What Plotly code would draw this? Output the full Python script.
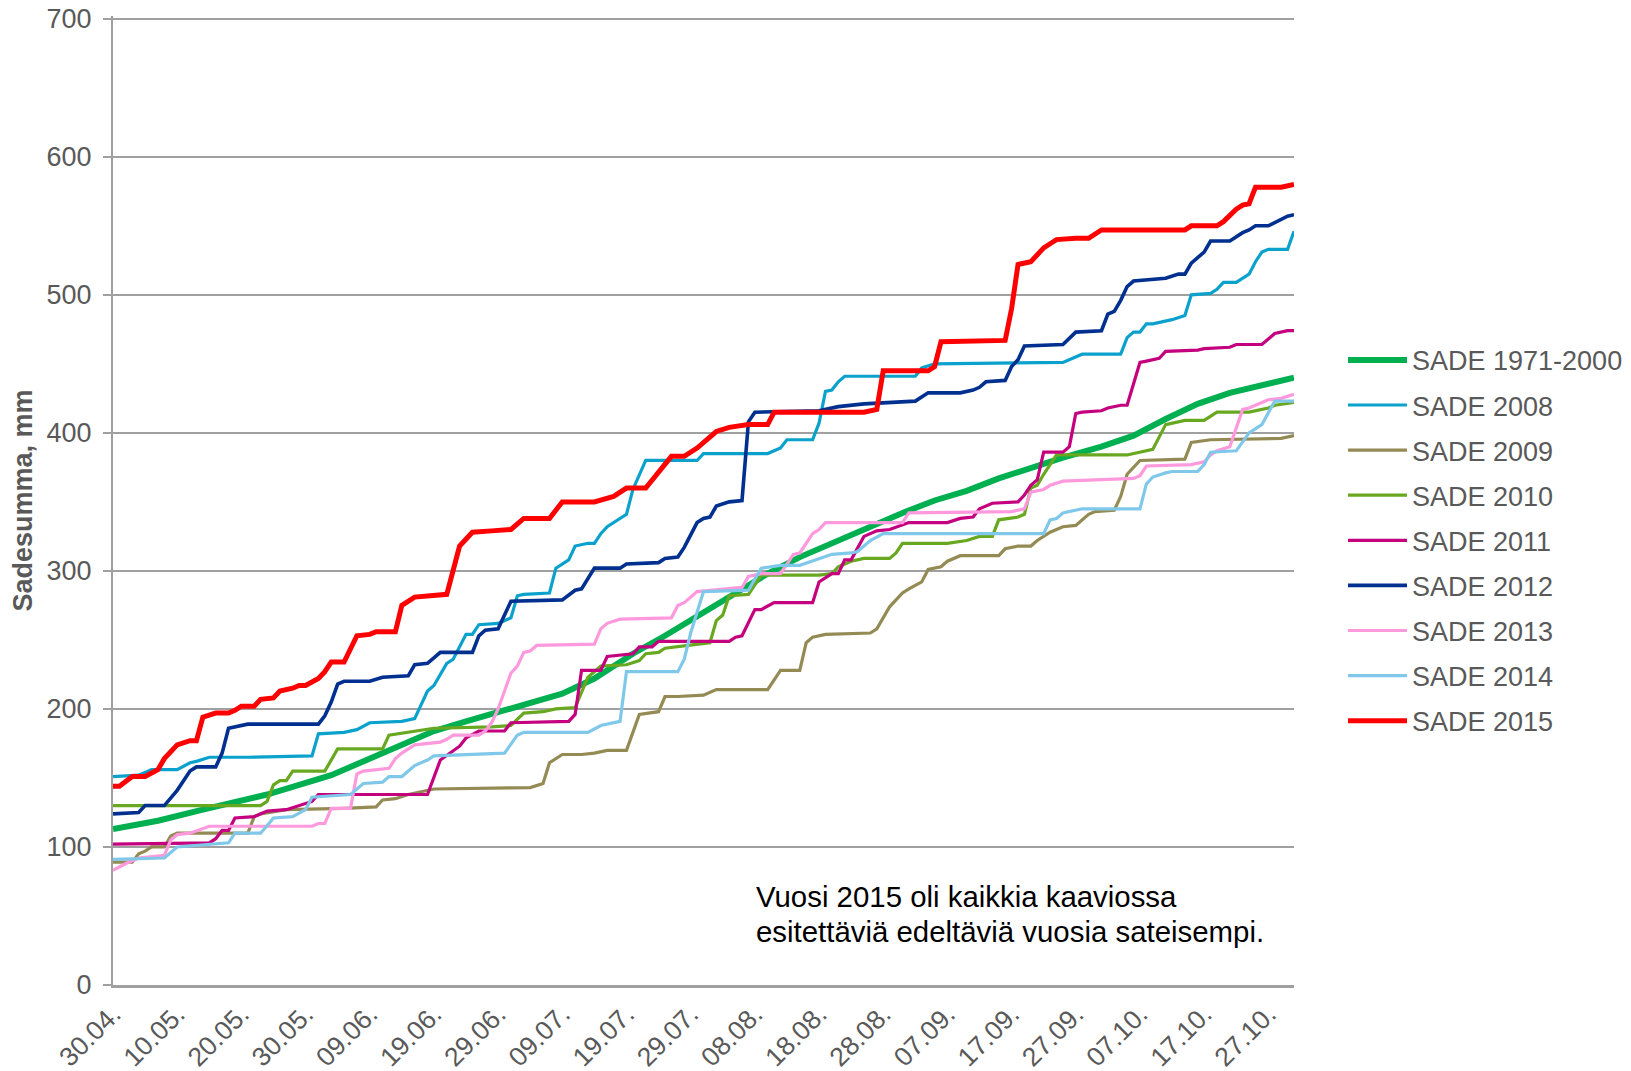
import pandas as pd
import plotly.graph_objects as go

# ---------------- data (day offset from 30.04., cumulative precipitation mm) ----------------
base_date = "2015-04-30"

names = ["SADE 1971-2000", "SADE 2008", "SADE 2009", "SADE 2010", "SADE 2011",
         "SADE 2012", "SADE 2013", "SADE 2014", "SADE 2015"]

d_1971 = [0, 7, 14, 24, 34, 41, 45, 50, 55, 60, 65, 70, 75, 81, 86, 91, 97, 102, 107, 112, 117,
          123, 128, 133, 138, 143, 148, 154, 159, 164, 169, 174, 179, 184]
v_1971 = [113, 119, 127, 138, 152, 166, 175, 184, 191, 198, 205, 211, 222, 240, 253, 267, 283, 298,
          310, 320, 331, 342, 351, 358, 367, 375, 382, 390, 398, 410, 421, 429, 435, 440]

d_2008 = [0, 4, 6, 10, 12, 13, 15, 21, 31, 32, 36, 38, 40, 45, 47, 49, 50, 52, 53, 55, 56, 57, 60,
          62, 63, 64, 68, 69, 71, 72, 74, 75, 76, 77, 80, 81, 83, 91, 92, 102, 104, 105, 109, 110,
          111, 112, 113, 114, 125, 126, 128, 148, 151, 157, 158, 159, 160, 161, 162, 164, 165, 167,
          168, 171, 172, 173, 175, 177, 178, 179, 180, 183, 184]
v_2008 = [151, 152, 156, 156, 161, 162, 165, 165, 166, 182, 183, 185, 190, 191, 193, 213, 217, 233,
          236, 254, 254, 261, 262, 266, 282, 283, 284, 302, 308, 318, 320, 320, 327, 332, 341, 359,
          380, 380, 385, 385, 389, 395, 395, 407, 430, 431, 437, 441, 441, 447, 450, 451, 457, 457,
          469, 473, 473, 479, 479, 481, 482, 485, 500, 501, 504, 509, 509, 515, 524, 531, 533, 533, 546]

d_2009 = [0, 3, 4, 5, 6, 8, 9, 10, 21, 22, 23, 27, 36, 41, 42, 44, 46, 49, 50, 65, 67, 68, 70, 73,
          75, 77, 80, 82, 85, 86, 88, 92, 94, 102, 103, 104, 107, 108, 109, 111, 118, 119, 121, 123,
          124, 126, 127, 129, 130, 132, 138, 139, 141, 143, 144, 146, 148, 150, 152, 153, 156, 157,
          158, 160, 167, 168, 171, 182, 184]
v_2009 = [89, 89, 95, 97, 100, 100, 108, 110, 110, 122, 124, 127, 128, 129, 134, 135, 138, 141, 142,
          143, 146, 161, 167, 167, 168, 170, 170, 196, 198, 209, 209, 210, 214, 214, 221, 228, 228,
          248, 252, 254, 255, 258, 274, 284, 287, 292, 301, 303, 307, 311, 311, 316, 318, 318, 322,
          328, 332, 333, 341, 343, 344, 354, 370, 380, 381, 393, 395, 396, 398]

d_2010 = [0, 23, 24, 25, 26, 27, 28, 33, 35, 42, 43, 46, 50, 59, 62, 64, 67, 69, 72, 74, 76, 80,
          82, 83, 85, 86, 93, 94, 95, 96, 99, 101, 110, 112, 113, 115, 117, 121, 122, 123, 130, 133,
          135, 137, 138, 141, 142, 143, 144, 145, 147, 158, 160, 162, 164, 166, 167, 170, 172, 177,
          180, 181, 184]
v_2010 = [130, 130, 133, 145, 148, 148, 155, 155, 171, 171, 181, 183, 186, 187, 188, 197, 198, 200,
          201, 223, 231, 232, 235, 240, 241, 244, 248, 264, 268, 282, 283, 297, 297, 298, 303, 307,
          309, 309, 313, 320, 320, 322, 325, 325, 337, 339, 341, 360, 362, 370, 384, 384, 386, 388,
          406, 408, 409, 409, 415, 415, 418, 420, 422]

d_2011 = [0, 15, 16, 17, 18, 19, 22, 24, 27, 29, 31, 32, 49, 51, 54, 55, 57, 61, 62, 71, 72, 73,
          76, 77, 81, 82, 84, 85, 96, 97, 98, 100, 101, 103, 109, 110, 112, 113, 114, 115, 117, 119,
          121, 124, 130, 132, 134, 135, 137, 141, 142, 143, 144, 145, 148, 149, 150, 151, 154, 155,
          157, 158, 160, 161, 163, 164, 169, 170, 174, 175, 179, 181, 183, 184]
v_2011 = [102, 103, 106, 112, 112, 121, 122, 126, 127, 130, 133, 138, 138, 163, 173, 179, 184, 184,
          190, 191, 196, 228, 228, 238, 240, 245, 245, 249, 249, 252, 253, 272, 272, 277, 277, 292,
          298, 298, 308, 308, 325, 329, 330, 335, 335, 338, 339, 345, 349, 350, 355, 362, 366, 386,
          386, 390, 414, 415, 416, 418, 420, 420, 451, 452, 454, 459, 460, 461, 462, 464, 464, 472,
          474, 474]

d_2012 = [0, 4, 5, 8, 10, 12, 13, 16, 17, 18, 21, 32, 33, 34, 35, 36, 40, 42, 46, 47, 49, 51, 56,
          57, 58, 60, 62, 70, 72, 73, 75, 79, 80, 85, 86, 88, 89, 91, 92, 93, 94, 96, 98, 99, 100,
          110, 113, 117, 125, 127, 132, 134, 135, 136, 139, 140, 141, 142, 148, 150, 154, 155, 156,
          157, 158, 159, 164, 166, 167, 168, 170, 171, 174, 176, 177, 178, 180, 183, 184]
v_2012 = [124, 125, 130, 130, 141, 155, 158, 158, 168, 186, 189, 189, 195, 205, 218, 220, 220, 223,
          224, 232, 233, 241, 241, 253, 257, 258, 278, 279, 286, 287, 302, 302, 305, 306, 309, 310,
          317, 335, 338, 339, 347, 350, 351, 408, 415, 416, 419, 421, 423, 429, 429, 431, 433, 437,
          438, 448, 453, 463, 464, 473, 474, 486, 488, 496, 506, 510, 512, 515, 515, 523, 531, 539,
          539, 545, 547, 550, 550, 557, 558]

d_2013 = [0, 2, 4, 8, 9, 10, 12, 15, 31, 32, 33, 34, 37, 38, 39, 43, 44, 45, 47, 51, 52, 53, 57,
          58, 59, 60, 62, 63, 64, 65, 66, 75, 76, 77, 79, 87, 88, 89, 91, 98, 99, 101, 104, 106, 107,
          108, 109, 110, 111, 123, 124, 140, 142, 143, 145, 146, 148, 159, 160, 161, 168, 170, 171,
          172, 174, 176, 177, 179, 180, 182, 184]
v_2013 = [83, 88, 92, 94, 105, 109, 110, 115, 115, 117, 117, 128, 128, 153, 155, 157, 164, 168,
          174, 176, 178, 181, 181, 184, 190, 200, 226, 231, 241, 242, 246, 247, 258, 262, 265, 266,
          275, 277, 285, 288, 296, 298, 298, 312, 313, 320, 327, 330, 335, 335, 342, 343, 345, 357,
          359, 362, 365, 367, 369, 376, 377, 379, 384, 387, 390, 417, 418, 422, 424, 425, 428]

d_2014 = [0, 8, 10, 15, 18, 19, 23, 25, 28, 30, 31, 37, 39, 42, 43, 45, 47, 49, 50, 61, 63, 64, 74,
          76, 79, 80, 88, 89, 90, 92, 99, 101, 104, 107, 109, 112, 115, 116, 118, 120, 145, 146, 147,
          148, 151, 160, 161, 162, 164, 165, 169, 170, 171, 175, 177, 178, 179, 181, 184]
v_2014 = [91, 92, 100, 102, 103, 110, 110, 121, 122, 127, 136, 138, 146, 147, 151, 151, 159, 163,
          166, 168, 181, 183, 183, 188, 191, 227, 227, 236, 255, 285, 286, 302, 304, 304, 307, 312,
          313, 314, 322, 327, 327, 337, 338, 342, 345, 345, 363, 368, 371, 372, 372, 377, 386, 387,
          400, 403, 406, 423, 423]

d_2015 = [0, 1, 3, 5, 7, 8, 10, 12, 13, 14, 16, 18, 19, 20, 22, 23, 25, 26, 28, 29, 30, 32, 33, 34,
          36, 38, 40, 41, 44, 45, 47, 52, 54, 56, 59, 62, 64, 68, 70, 75, 78, 80, 83, 85, 87, 89,
          91, 94, 96, 99, 102, 103, 117, 119, 120, 127, 128, 129, 139, 140, 141, 143, 145, 146,
          147, 150, 152, 154, 167, 168, 172, 173, 175, 176, 177, 178, 182, 184]
v_2015 = [144, 144, 151, 151, 156, 164, 174, 177, 177, 194, 197, 197, 199, 202, 202, 207, 208, 213,
          215, 217, 217, 222, 227, 234, 234, 253, 254, 256, 256, 275, 281, 283, 318, 328, 329, 330,
          338, 338, 350, 350, 354, 360, 360, 371, 383, 383, 389, 401, 404, 406, 406, 415, 415, 417,
          445, 445, 448, 466, 467, 490, 522, 524, 534, 537, 540, 541, 541, 547, 547, 550, 550, 553,
          562, 565, 566, 578, 578, 580]

series_days = [d_1971, d_2008, d_2009, d_2010, d_2011, d_2012, d_2013, d_2014, d_2015]
series_vals = [v_1971, v_2008, v_2009, v_2010, v_2011, v_2012, v_2013, v_2014, v_2015]

y_ticks = [0, 100, 200, 300, 400, 500, 600, 700]

colors = ["#00B050", "#0AA2CC", "#948A54", "#68A820", "#C4007F", "#00308F", "#FF99DD",
          "#80C8EA", "#FF0000"]
widths = [6, 3.2, 3.2, 3.2, 3.2, 3.6, 3.2, 3.2, 5]

y_title = "Sadesumma, mm"
note_lines = ["Vuosi 2015 oli kaikkia kaaviossa", "esitettäviä edeltäviä vuosia sateisempi."]

FONT = "Liberation Sans, Arial, sans-serif"
GRAY = "#595959"
GRID = "#A0A0A0"

base = pd.Timestamp(base_date)
fig = go.Figure()
for name, dd, vv, c, w in zip(names, series_days, series_vals, colors, widths):
    x = [base + pd.Timedelta(days=int(k)) for k in dd]
    fig.add_trace(go.Scatter(x=x, y=vv, mode="lines", name=name, legendgroup=name,
                             line=dict(color=c, width=w)))

# The page body adds an 8px margin, so the figure is made 8px smaller and
# everything is laid out in screen coordinates minus that offset.
OFF = 8
W, H = 1631 - OFF, 1071 - OFF
Y_TOP = 702                                  # small headroom so the 700 gridline is drawn
L, R, B = 113, 1294, 985                     # plot area in screen pixels
PXV = (985 - 19) / 700.0                     # pixels per mm (700 sits at screen y 19)
T = B - Y_TOP * PXV

def px(sx):
    return (sx - L) / (R - L)

def py(sy):
    return (B - sy) / (B - T)

fig.update_layout(
    width=W, height=H,
    margin=dict(l=L - OFF, r=W - (R - OFF), t=T - OFF, b=H - (B - OFF), autoexpand=False),
    paper_bgcolor="white", plot_bgcolor="white",
    font=dict(family=FONT, size=27, color=GRAY),
    showlegend=True,
    legend=dict(x=px(1343), xanchor="left", y=py(336), yanchor="top",
                font=dict(size=27, color=GRAY), tracegroupgap=7, itemwidth=59,
                bgcolor="rgba(0,0,0,0)"),
)

fig.update_xaxes(
    type="date",
    range=[base, base + pd.Timedelta(days=184)],
    tick0=base, dtick=10 * 86400000, tickformat="%d.%m.",
    tickangle=-45, tickfont=dict(size=26.5, color=GRAY),
    showgrid=False, zeroline=False,
    showline=True, linecolor=GRID, linewidth=3,
    ticks="", ticklabeloverflow="allow",
)
fig.update_yaxes(
    range=[0, Y_TOP], tickvals=y_ticks,
    showgrid=True, gridcolor=GRID, gridwidth=2, zeroline=False,
    showline=True, linecolor=GRID, linewidth=2,
    ticks="outside", ticklen=8, tickwidth=2, tickcolor=GRID,
    tickfont=dict(size=27, color=GRAY), ticklabelstandoff=6, ticklabeloverflow="allow",
    title=dict(text="<b>" + y_title + "</b>", font=dict(size=27, color=GRAY), standoff=12),
)

for i, line in enumerate(note_lines):
    fig.add_annotation(text=line, xref="paper", yref="paper",
                       x=px(754), y=py(897 + 35 * i),
                       xanchor="left", yanchor="middle", showarrow=False,
                       font=dict(family=FONT, size=29.4, color="#000000"))

# partial logo circle at bottom-right corner
cx, cy, r = 1646, 1028, 21
fig.add_shape(type="circle", xref="paper", yref="paper",
              x0=px(cx - r), x1=px(cx + r), y0=py(cy + r), y1=py(cy - r),
              fillcolor="#1BA3DE", line=dict(width=0), layer="above")

fig.write_html("out.html")
